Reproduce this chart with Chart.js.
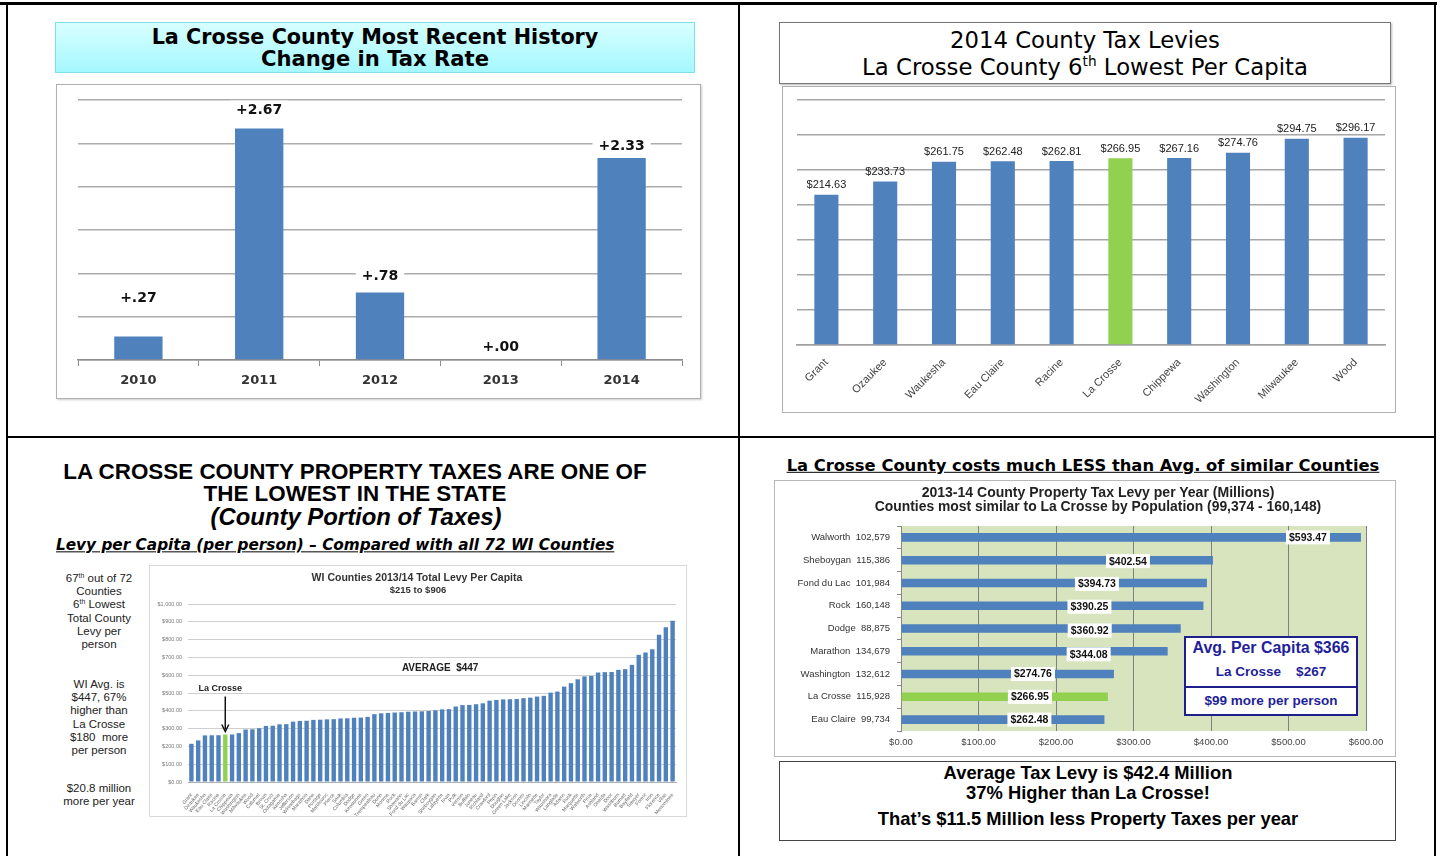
<!DOCTYPE html>
<html><head><meta charset="utf-8">
<script src="https://cdn.jsdelivr.net/npm/chart.js@4.4.1/dist/chart.umd.min.js"></script>
<style>
html,body{margin:0;padding:0;background:#fff;}
body{width:1440px;height:856px;position:relative;overflow:hidden;font-family:"Liberation Sans",Arial,sans-serif;color:#000;}
.ln{position:absolute;background:#000;}
.t{position:absolute;white-space:nowrap;transform:translate(-50%,-50%);line-height:1;}
.tl{position:absolute;white-space:nowrap;transform:translate(0,-50%);line-height:1;}
.blk{position:absolute;transform:translateX(-50%);text-align:center;font-size:11.5px;line-height:13.2px;color:#222;white-space:nowrap;}
.frame{position:absolute;box-sizing:border-box;}
canvas{position:absolute;}
sup{font-size:60%;line-height:0;vertical-align:0.6em;}
</style></head><body>

<!-- outer frame and dividers -->
<div class="ln" style="left:0;top:2px;width:1437px;height:3px"></div>
<div class="ln" style="left:6px;top:2px;width:2px;height:854px"></div>
<div class="ln" style="left:1434px;top:2px;width:2px;height:854px"></div>
<div class="ln" style="left:738px;top:2px;width:2px;height:854px"></div>
<div class="ln" style="left:6px;top:436px;width:1430px;height:2px"></div>

<!-- panel 1 -->
<div class="frame" style="left:55px;top:22px;width:640px;height:51px;border:1px solid #7fe0e8;background:linear-gradient(#d8ffff,#a4f8ff);"></div>
<div class="t" id="p1a" style="left:375px;top:37px;font-family:'DejaVu Sans';font-weight:bold;font-size:17px;">La Crosse County Most Recent History</div>
<div class="t" id="p1b" style="left:375px;top:59px;font-family:'DejaVu Sans';font-weight:bold;font-size:17px;">Change in Tax Rate</div>
<div class="frame" style="left:56px;top:84px;width:645px;height:315px;border:1px solid #b0b0b0;box-shadow:1px 1px 2px #ccc;"></div>
<canvas id="c1" width="643" height="313" style="left:57px;top:85px"></canvas>

<!-- panel 2 -->
<div class="frame" style="left:779px;top:22px;width:612px;height:62px;border:1px solid #777;box-shadow:1px 1px 2px #bbb;background:#fff"></div>
<div class="t" id="p2a" style="left:1085px;top:40px;font-family:'DejaVu Sans';font-size:20px;">2014 County Tax Levies</div>
<div class="t" id="p2b" style="left:1085px;top:67px;font-family:'DejaVu Sans';font-size:20px;">La Crosse County 6<sup>th</sup> Lowest Per Capita</div>
<div class="frame" style="left:782px;top:86px;width:614px;height:327px;border:1px solid #b0b0b0;"></div>
<canvas id="c2" width="612" height="325" style="left:783px;top:87px"></canvas>

<!-- panel 3 -->
<div class="t" id="p3a" style="left:355px;top:472px;font-weight:bold;font-size:22px;">LA CROSSE COUNTY PROPERTY TAXES ARE ONE OF</div>
<div class="t" id="p3b" style="left:355px;top:494px;font-weight:bold;font-size:22px;">THE LOWEST IN THE STATE</div>
<div class="t" id="p3c" style="left:356px;top:517px;font-weight:bold;font-style:italic;font-size:22px;">(County Portion of Taxes)</div>
<div class="tl" id="p3d" style="left:56px;top:546px;font-family:'DejaVu Sans';font-weight:bold;font-style:italic;font-size:13.5px;text-decoration:underline;">Levy per Capita (per person) – Compared with all 72 WI Counties</div>

<div class="blk" style="left:99px;top:572px;">67<sup>th</sup> out of 72<br>Counties<br>6<sup>th</sup> Lowest<br>Total County<br>Levy per<br>person</div>
<div class="blk" style="left:99px;top:678px;">WI Avg. is<br>$447, 67%<br>higher than<br>La Crosse<br>$180&nbsp; more<br>per person</div>
<div class="blk" style="left:99px;top:782px;">$20.8 million<br>more per year</div>

<div class="frame" style="left:149px;top:565px;width:538px;height:252px;border:1px solid #d8d8d8;"></div>
<canvas id="c3" width="536" height="250" style="left:150px;top:566px"></canvas>
<div class="t" id="c3t1" style="left:417px;top:577px;font-weight:bold;font-size:9.5px;color:#333;">WI Counties 2013/14 Total Levy Per Capita</div>
<div class="t" id="c3t2" style="left:418px;top:590px;font-weight:bold;font-size:9.5px;color:#333;">$215 to $906</div>

<!-- panel 4 -->
<div class="t" id="p4a" style="left:1083px;top:466px;font-family:'DejaVu Sans';font-weight:bold;font-size:14.5px;text-decoration:underline;">La Crosse County costs much LESS than Avg. of similar Counties</div>
<div class="frame" style="left:774px;top:480px;width:622px;height:277px;border:1px solid #b8b8b8;"></div>
<canvas id="c4" width="620" height="275" style="left:775px;top:481px"></canvas>
<div class="t" id="c4t1" style="left:1098px;top:492px;font-weight:bold;font-size:11.5px;color:#222;">2013-14 County Property Tax Levy per Year (Millions)</div>
<div class="t" id="c4t2" style="left:1098px;top:507px;font-weight:bold;font-size:11.5px;color:#222;">Counties most similar to La Crosse by Population (99,374 - 160,148)</div>

<div class="frame" style="left:1184px;top:636px;width:174px;height:80px;border:2px solid #1f1f8c;background:#fff;"></div>
<div class="ln" style="left:1186px;top:686px;width:170px;height:1.5px;background:#1f1f8c"></div>
<div class="t" id="cb1" style="left:1271px;top:648px;font-weight:bold;font-size:13.5px;color:#1f1f99;">Avg. Per Capita $366</div>
<div class="t" id="cb2" style="left:1271px;top:672px;font-weight:bold;font-size:13.5px;color:#1f1f99;white-space:pre;">La Crosse    $267</div>
<div class="t" id="cb3" style="left:1271px;top:701px;font-weight:bold;font-size:13.5px;color:#1f1f99;">$99 more per person</div>

<div class="frame" style="left:779px;top:761px;width:617px;height:80px;border:1px solid #444;"></div>
<div class="t" id="b1" style="left:1088px;top:773px;font-weight:bold;font-size:15px;">Average Tax Levy is $42.4 Million</div>
<div class="t" id="b2" style="left:1088px;top:793px;font-weight:bold;font-size:15px;">37% Higher than La Crosse!</div>
<div class="t" id="b3" style="left:1088px;top:819px;font-weight:bold;font-size:15px;">That’s $11.5 Million less Property Taxes per year</div>

<script>
// ---------------- DATA ----------------
const years = ['2010','2011','2012','2013','2014'];
const rateChange = [0.27, 2.67, 0.78, 0.00, 2.33];
const rateLabels = ['+.27','+2.67','+.78','+.00','+2.33'];

const lowCounties = ['Grant','Ozaukee','Waukesha','Eau Claire','Racine','La Crosse','Chippewa','Washington','Milwaukee','Wood'];
const lowLevies = [214.63, 233.73, 261.75, 262.48, 262.81, 266.95, 267.16, 274.76, 294.75, 296.17];

const allCounties = ['Grant','Ozaukee','Waukesha','Eau Claire','Racine','La Crosse','Chippewa','Washington','Milwaukee','Wood',
 'Calumet','Brown','St. Croix','Outagamie','Kenosha','Jefferson','Winnebago','Marathon','Dane','Portage',
 'Manitowoc','Pierce','Sauk','Columbia','Dodge','Kewaunee','Green','Trempealeau','Dunn','Monroe',
 'Rock','Shawano','Fond du Lac','Waupaca','Barron','Clark','Sheboygan','Lafayette','Iowa','Polk',
 'Vernon','Buffalo','Juneau','Richland','Crawford','Pepin','Douglas','Green Lake','Jackson','Oconto',
 'Lincoln','Marinette','Taylor','Waushara','Langlade','Adams','Rusk','Marquette','Walworth','Price',
 'Ashland','Oneida','Door','Washburn','Burnett','Bayfield','Sawyer','Forest','Iron','Florence','Vilas','Menominee'];
const allLevies = [214.63,233.73,261.75,262.48,262.81,266.95,267.16,274.76,294.75,296.17,
 302,315,316,324,325,339,343,344.08,349,350,
 352,353,357,358,360.92,362,366,381,386,388,
 390.25,392,394.73,396,397,399,402.54,408,409,424,
 432,433,437,442,457,461,464,465,466,471,
 474,480,484,502,508,536,555,577,593.47,596,
 615,617,618,630,634,658,714,727,746,827,870,906];

const similarCounties = ['Walworth','Sheboygan','Fond du Lac','Rock','Dodge','Marathon','Washington','La Crosse','Eau Claire'];
const similarPops = ['102,579','115,386','101,984','160,148','88,875','134,679','132,612','115,928','99,734'];
const similarLevies = [593.47, 402.54, 394.73, 390.25, 360.92, 344.08, 274.76, 266.95, 262.48];

// ---------------- STYLE ----------------
const BLUE = '#4f81bd', GREEN = '#92d050';
const colorFor = names => names.map(n => n === 'La Crosse' ? GREEN : BLUE);
Chart.defaults.font.family = '"Liberation Sans", Arial, sans-serif';
const base = {responsive:false, animation:false, devicePixelRatio:1,
  plugins:{legend:{display:false}, tooltip:{enabled:false}, title:{display:false}}};

// ---------- Chart 1 ----------
const c1Labels = {
  id:'c1Labels',
  afterDatasetsDraw(chart, args, opts){
    const ctx = chart.ctx, meta = chart.getDatasetMeta(0);
    ctx.save();
    ctx.font = 'bold 14px "DejaVu Sans"';
    ctx.textAlign = 'center'; ctx.textBaseline = 'middle';
    meta.data.forEach((bar, i) => {
      const t = rateLabels[i], x = bar.x, y = bar.y - opts.lift[i];
      const w = ctx.measureText(t).width;
      ctx.fillStyle = '#fff'; ctx.fillRect(x - w/2 - 6, y - 10, w + 12, 20);
      ctx.fillStyle = '#111'; ctx.fillText(t, x, y);
    });
    ctx.restore();
  }
};
new Chart(document.getElementById('c1'), {
  type:'bar',
  data:{labels:years, datasets:[{data:rateChange, backgroundColor:BLUE, categoryPercentage:0.5, barPercentage:0.8}]},
  options:{...base,
    layout:{padding:{left:21,right:18,top:15,bottom:0}},
    plugins:{...base.plugins, c1Labels:{lift:[38,18,16,13,12]}},
    scales:{
      x:{grid:{drawOnChartArea:false, drawTicks:true, tickLength:6, color:'#8c8c8c', offset:true},
         border:{color:'#8c8c8c', width:1.5},
         ticks:{font:{family:'DejaVu Sans', weight:'bold', size:13}, color:'#333', padding:7},
         afterFit:s=>{s.height=38;}},
      y:{min:0, max:3, ticks:{stepSize:0.5, display:false},
         grid:{color:'#acacac', lineWidth:1.5, drawTicks:false}, border:{display:false},
         afterFit:s=>{s.width=0;}}
    }},
  plugins:[c1Labels]
});

// ---------- Chart 2 ----------
const c2Labels = {
  id:'c2Labels',
  afterDatasetsDraw(chart){
    const ctx = chart.ctx, meta = chart.getDatasetMeta(0);
    ctx.save();
    ctx.font = '11px "Liberation Sans"'; ctx.fillStyle = '#222';
    ctx.textAlign = 'center'; ctx.textBaseline = 'bottom';
    meta.data.forEach((bar, i) => ctx.fillText('$' + lowLevies[i].toFixed(2), bar.x, bar.y - 4));
    ctx.restore();
  }
};
new Chart(document.getElementById('c2'), {
  type:'bar',
  data:{labels:lowCounties, datasets:[{data:lowLevies, backgroundColor:colorFor(lowCounties), categoryPercentage:0.82, barPercentage:0.5}]},
  options:{...base,
    layout:{padding:{left:14,right:10,top:13,bottom:0}},
    scales:{
      x:{grid:{display:false}, border:{color:'#a0a0a0', width:1.5},
         ticks:{font:{size:11}, color:'#444', minRotation:45, maxRotation:45, padding:3, autoSkip:false},
         afterFit:s=>{s.height=67;}},
      y:{min:0, max:350, ticks:{stepSize:50, display:false},
         grid:{color:'#a6a6a6', lineWidth:1.5, drawTicks:false}, border:{display:false},
         afterFit:s=>{s.width=0;}}
    }},
  plugins:[c2Labels]
});

// ---------- Chart 3 ----------
const c3Notes = {
  id:'c3Notes',
  afterDatasetsDraw(chart){
    const ctx = chart.ctx, xs = chart.scales.x, ys = chart.scales.y;
    ctx.save();
    ctx.fillStyle = '#222'; ctx.textAlign = 'center'; ctx.textBaseline = 'middle';
    ctx.font = 'bold 10px "Liberation Sans"';
    ctx.fillText('AVERAGE  $447', xs.getPixelForValue(36.7), ys.getPixelForValue(640));
    const i = allCounties.indexOf('La Crosse');
    const ax = xs.getPixelForValue(i);
    const tip = ys.getPixelForValue(allLevies[i]) - 3;
    ctx.font = 'bold 9px "Liberation Sans"';
    ctx.fillText('La Crosse', ax - 5, tip - 43);
    ctx.strokeStyle = '#111'; ctx.lineWidth = 1.5;
    ctx.beginPath(); ctx.moveTo(ax, tip - 35); ctx.lineTo(ax, tip - 2); ctx.stroke();
    ctx.beginPath(); ctx.moveTo(ax - 3.5, tip - 7); ctx.lineTo(ax, tip); ctx.lineTo(ax + 3.5, tip - 7); ctx.stroke();
    ctx.restore();
  }
};
new Chart(document.getElementById('c3'), {
  type:'bar',
  data:{labels:allCounties, datasets:[{data:allLevies, backgroundColor:colorFor(allCounties), categoryPercentage:0.9, barPercentage:0.72}]},
  options:{...base,
    layout:{padding:{left:0,right:10,top:38,bottom:0}},
    scales:{
      x:{grid:{display:false}, border:{color:'#b0b0b0'},
         ticks:{font:{size:5}, color:'#666', minRotation:50, maxRotation:50, padding:2, autoSkip:false},
         afterFit:s=>{s.height=34;}},
      y:{min:0, max:1000, ticks:{stepSize:100, font:{size:5.5}, color:'#777', padding:6,
            callback:v=>'$' + v.toLocaleString('en-US',{minimumFractionDigits:2, maximumFractionDigits:2})},
         grid:{color:'#cfcfcf', lineWidth:1, drawTicks:false}, border:{display:false},
         afterFit:s=>{s.width=38;}}
    }},
  plugins:[c3Notes]
});

// ---------- Chart 4 ----------
const c4Bg = {
  id:'c4Bg',
  beforeDraw(chart){
    const {ctx, chartArea:a} = chart;
    ctx.save(); ctx.fillStyle = '#d7e4bd'; ctx.fillRect(a.left, a.top, a.right - a.left, a.bottom - a.top); ctx.restore();
  }
};
const c4Labels = {
  id:'c4Labels',
  afterDatasetsDraw(chart, args, opts){
    const ctx = chart.ctx, meta = chart.getDatasetMeta(0);
    ctx.save();
    ctx.font = 'bold 10.5px "Liberation Sans"'; ctx.textAlign = 'center'; ctx.textBaseline = 'middle';
    meta.data.forEach((bar, i) => {
      const t = '$' + similarLevies[i].toFixed(2);
      const x = bar.x - opts.back[i], y = bar.y + opts.dy[i];
      const w = ctx.measureText(t).width;
      ctx.fillStyle = '#fff'; ctx.fillRect(x - w/2 - 3, y - 7, w + 6, 14);
      ctx.fillStyle = '#111'; ctx.fillText(t, x, y + 0.5);
    });
    ctx.restore();
  }
};
new Chart(document.getElementById('c4'), {
  type:'bar',
  data:{labels:similarCounties.map((c, i) => c + '  ' + similarPops[i]),
        datasets:[{data:similarLevies, backgroundColor:colorFor(similarCounties), categoryPercentage:0.8, barPercentage:0.47}]},
  options:{...base, indexAxis:'y',
    layout:{padding:{left:0,right:29,top:45,bottom:0}},
    plugins:{...base.plugins, c4Labels:{back:[53,85,110,114,91,79,81,78,75], dy:[0,1,1,1,2,3,0,0,0]}},
    scales:{
      x:{min:0, max:600, ticks:{stepSize:100, font:{size:9.5}, color:'#444', padding:6,
            callback:v=>'$' + v.toFixed(2)},
         grid:{color:'#7f7f7f', lineWidth:1, drawTicks:false}, border:{display:false},
         afterFit:s=>{s.height=25;}},
      y:{ticks:{font:{size:9.5}, color:'#333', padding:7, autoSkip:false},
         grid:{drawOnChartArea:false, drawTicks:true, tickLength:4, color:'#888', offset:true},
         border:{color:'#888'},
         afterFit:s=>{s.width=126;}}
    }},
  plugins:[c4Bg, c4Labels]
});

// ---------- text width fitting ----------
function fit(id, w){
  const el = document.getElementById(id);
  const cur = el.getBoundingClientRect().width;
  const fs = parseFloat(getComputedStyle(el).fontSize);
  if (cur > 0) el.style.fontSize = (fs * w / cur) + 'px';
}
fit('p1a', 447); fit('p1b', 228);
fit('p2a', 270); fit('p2b', 446);
fit('p3a', 584); fit('p3c', 291); fit('p3d', 559);
document.getElementById('p3b').style.fontSize = document.getElementById('p3a').style.fontSize;
fit('p4a', 593);
fit('c3t1', 211);
fit('c4t1', 353); fit('c4t2', 447);
fit('cb1', 157);
fit('b1', 289); fit('b3', 421);
document.getElementById('b2').style.fontSize = document.getElementById('b1').style.fontSize;
</script>
</body></html>
